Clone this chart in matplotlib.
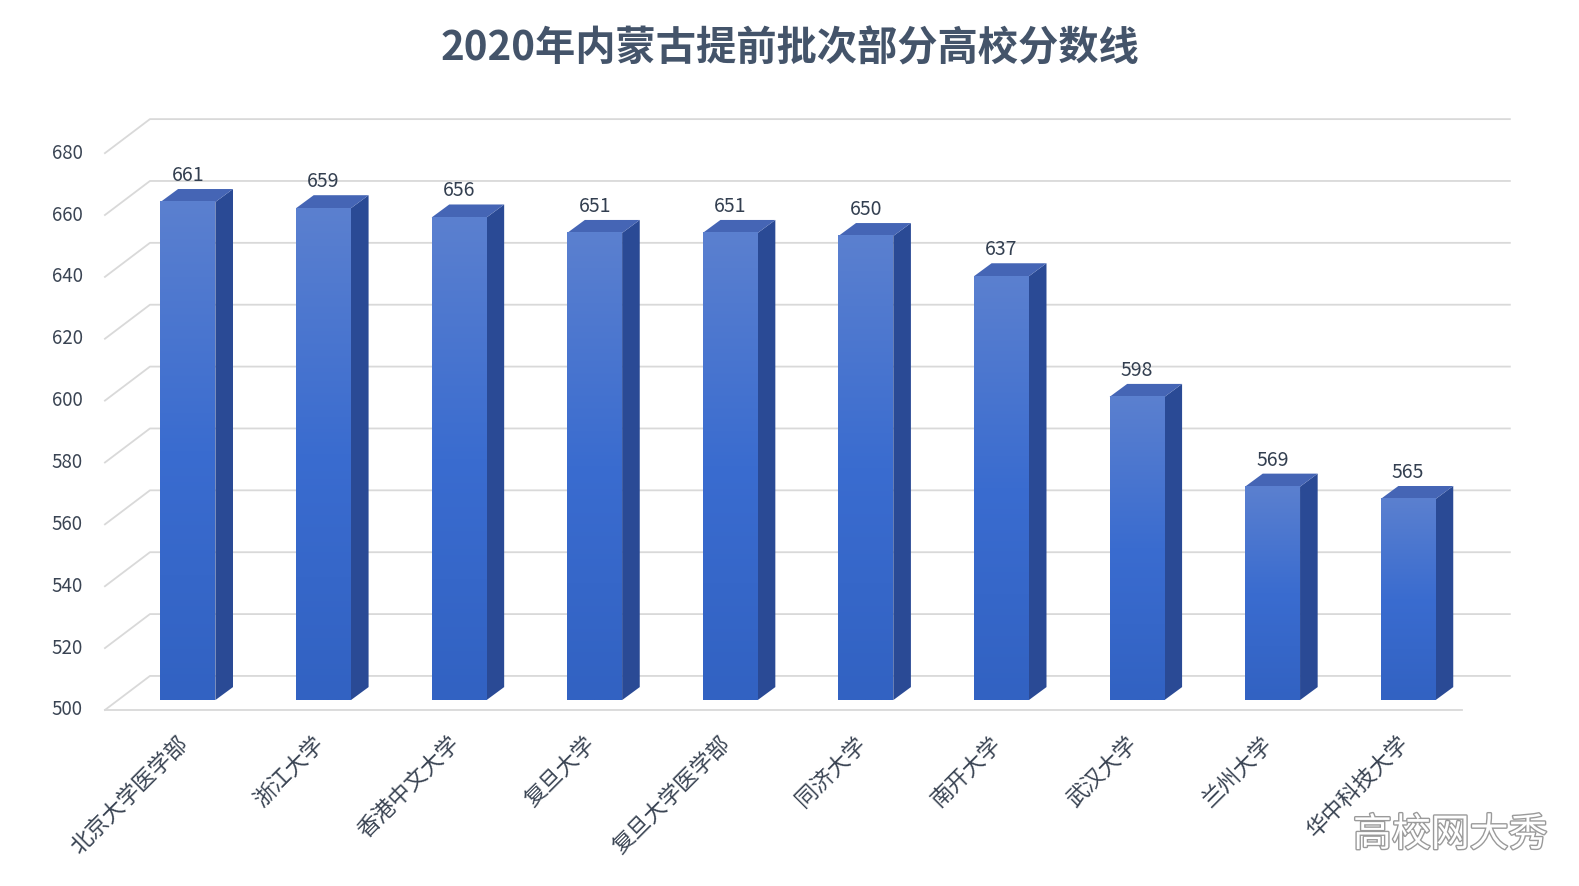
import matplotlib
matplotlib.use("Agg")
import matplotlib.pyplot as plt
import numpy as np
from matplotlib.patches import Polygon
import matplotlib.patheffects as pe
from matplotlib.colors import LinearSegmentedColormap

plt.rcParams['font.family'] = ['Noto Sans CJK SC', 'DejaVu Sans']

categories = ["北京大学医学部", "浙江大学", "香港中文大学", "复旦大学", "复旦大学医学部",
              "同济大学", "南开大学", "武汉大学", "兰州大学", "华中科技大学"]
scores = [661, 659, 656, 651, 651, 650, 637, 598, 569, 565]
yticks = [500, 520, 540, 560, 580, 600, 620, 640, 660, 680]
title = "2020年内蒙古提前批次部分高校分数线"

fig = plt.figure(figsize=(15.79, 8.86), dpi=100)
ax = fig.add_axes([0, 0, 1, 1])
ax.set_xlim(-1.386, 10.26)
ax.set_ylim(439.9, 726.3)
ax.axis('off')

grid_c = '#d9d9d9'
fx0, bx0, bx1, fx1 = -0.612, -0.280, 9.75, 9.40
foff, boff = -3.2, 7.8
for v in yticks:
    ax.plot([fx0, bx0, bx1], [v + foff, v + boff, v + boff], color=grid_c, lw=1.3, zorder=1)
    ax.text(-0.775, v + foff, str(v), ha='right', va='center', fontsize=13.5, color='#3a4453')
ax.plot([fx0, fx1], [500 + foff, 500 + foff], color=grid_c, lw=1.3, zorder=1)

w, dx, dy = 0.405, 0.13, 4.2
grad = np.linspace(0, 1, 256).reshape(-1, 1)
cm = LinearSegmentedColormap.from_list('g', ['#3262c2', '#3a6cd0', '#5b80cf'])
for i, (c, s) in enumerate(zip(categories, scores)):
    l, r = i - w / 2, i + w / 2
    ax.add_patch(Polygon([[r, 500], [r + dx, 500 + dy], [r + dx, s + dy], [r, s]],
                         closed=True, fc='#2a4a95', ec='none', zorder=2))
    ax.add_patch(Polygon([[l, s], [r, s], [r + dx, s + dy], [l + dx, s + dy]],
                         closed=True, fc='#4565b5', ec='none', zorder=2))
    ax.imshow(grad, extent=(l, r, 500, s), origin='lower', cmap=cm, aspect='auto', zorder=3)
    ax.text(i, s + dy + 1, str(s), ha='center', va='bottom', fontsize=14, color='#333f50', zorder=4)
    ax.text(i - 0.08, 489.5, c, rotation=45, ha='right', va='top', rotation_mode='anchor',
            fontsize=16, color='#3a4453', zorder=4)

ax.text(0.5, 0.945, title, transform=ax.transAxes, ha='center', va='center',
        fontsize=29, fontweight='bold', color='#44546a')
ax.text(0.98, 0.035, "高校网大秀", transform=ax.transAxes, ha='right', va='bottom',
        fontsize=28, color='white', zorder=5,
        path_effects=[pe.withStroke(linewidth=2, foreground='#9a9a9a')])

fig.savefig('out.png', dpi=100)
